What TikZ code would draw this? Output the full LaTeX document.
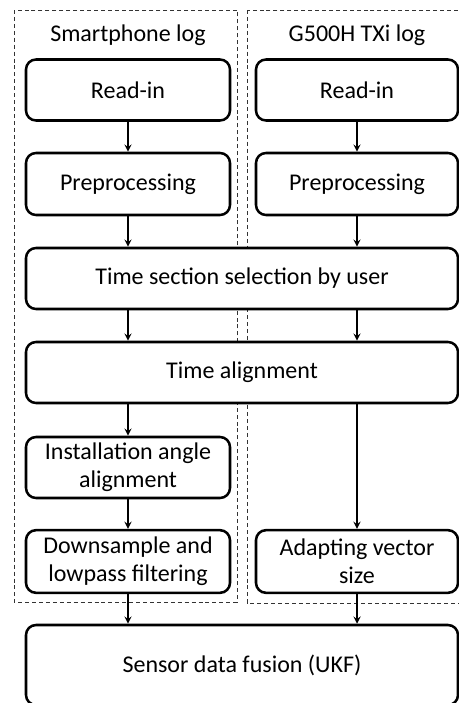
\documentclass[tikz,border=0pt]{standalone}
\usepackage{fontspec}
\setmainfont{Carlito}
\usetikzlibrary{arrows}
\tikzstyle{process} = [rectangle, rounded corners=7.5pt, minimum width=153pt, minimum height=45.75pt, text centered, align=center, draw=black, fill=white, line width=1.9pt, inner sep=0pt]
\tikzstyle{wide} = [process, minimum width=324pt]
\tikzstyle{group} = [draw=black!80, dashed, dash pattern=on 3pt off 2.2pt, line width=0.6pt]
\tikzstyle{arrow} = [line width=1.4pt,->,>=stealth]

\begin{document}
\begin{tikzpicture}[x=0.75pt, y=-0.75pt, font=\fontsize{18}{21}\selectfont]
\useasboundingbox (0,0) rectangle (459,703);

% dashed groups
\draw [group] (14,10) rectangle (237,602);
\draw [group] (247,10) rectangle (470,603);
\node (titleL) at (128,35) {Smartphone log};
\node (titleR) at (357,35) {G500H TXi log};

\node (readL) [process] at (128,90) {Read-in};
\node (prepL) [process, minimum height=46.5pt] at (128,184) {Preprocessing};
\node (readR) [process, minimum width=151.5pt] at (357,90) {Read-in};
\node (prepR) [process, minimum width=151.5pt, minimum height=46.5pt] at (357,184) {Preprocessing};
\node (sel) [wide] at (242,278.5) {Time section selection by user};
\node (align) [wide] at (242,372.5) {Time alignment};
\node (inst) [process] at (128,467.5) {Installation angle\\alignment};
\node (down) [process, minimum height=47pt] at (128,561.5) {Downsample and\\lowpass filtering};
\node (adapt) [process, minimum width=151.5pt, minimum height=47pt] at (357,561.5) {Adapting vector\\size};
\node (fusion) [wide, minimum height=60pt] at (242,665) {Sensor data fusion (UKF)};

\draw [arrow] (readL) -- (prepL);
\draw [arrow] (readR) -- (prepR);
\draw [arrow] (prepL) -- (prepL |- sel.north);
\draw [arrow] (prepR) -- (prepR |- sel.north);
\draw [arrow] (sel.south -| prepL) -- (align.north -| prepL);
\draw [arrow] (sel.south -| prepR) -- (align.north -| prepR);
\draw [arrow] (align.south -| inst) -- (inst);
\draw [arrow] (align.south -| adapt) -- (adapt);
\draw [arrow] (inst) -- (down);
\draw [arrow] (down) -- (down |- fusion.north);
\draw [arrow] (adapt) -- (adapt |- fusion.north);

\end{tikzpicture}
\end{document}
